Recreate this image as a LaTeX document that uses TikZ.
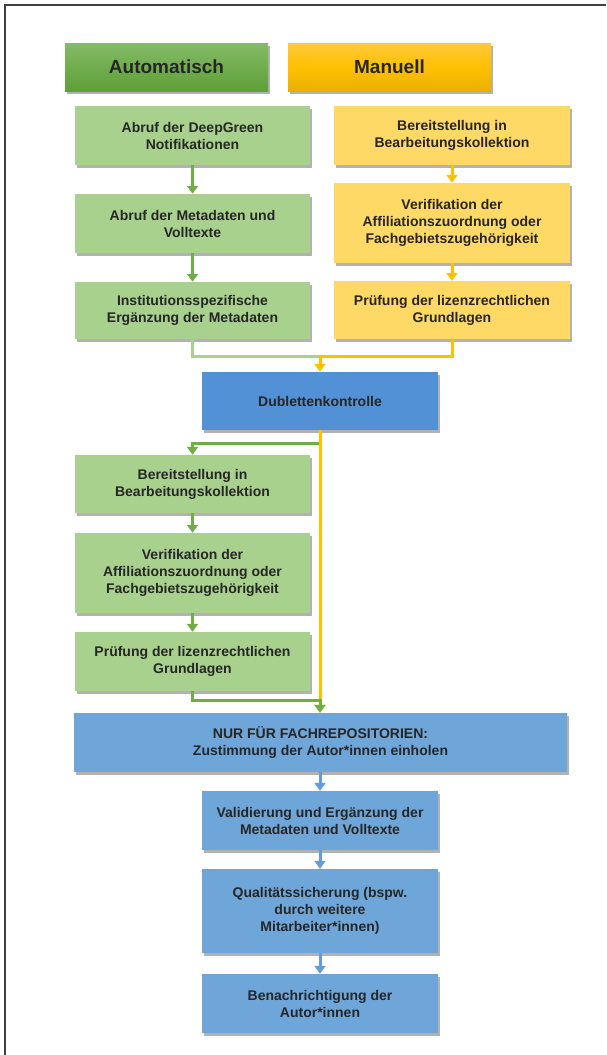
\documentclass[tikz,border=0pt]{standalone}
\usepackage{fontspec}
\setmainfont{Liberation Sans}
\usetikzlibrary{shadows,arrows.meta}

\definecolor{hdgreentop}{HTML}{84BB66}
\definecolor{hdgreenbot}{HTML}{5E9F37}
\definecolor{hdgoldtop}{HTML}{FFC93C}
\definecolor{hdgoldbot}{HTML}{E9B000}
\definecolor{lgreen}{HTML}{A9D18E}
\definecolor{mgreen}{HTML}{70AD47}
\definecolor{lgold}{HTML}{FFD966}
\definecolor{mgold}{HTML}{FFC000}
\definecolor{dblue}{HTML}{5291D5}
\definecolor{lblue}{HTML}{6FA6DA}
\definecolor{txtgray}{HTML}{262626}

\tikzset{
  box/.style={align=center,inner sep=0pt,text=txtgray,
    font=\bfseries\fontsize{14}{17}\selectfont,
    drop shadow={shadow xshift=2pt,shadow yshift=-2.5pt,opacity=0.3,fill=black}},
  headbox/.style={box,minimum width=203pt,minimum height=48pt,
    font=\bfseries\fontsize{19}{23}\selectfont},
  greenbox/.style={box,fill=lgreen,minimum width=235pt},
  goldbox/.style={box,fill=lgold,minimum width=236pt},
  bluebox/.style={box,fill=lblue,minimum width=236pt},
  garrow/.style={draw=mgreen,line width=3pt,-{Triangle[length=8pt,width=11pt]}},
  yarrow/.style={draw=mgold,line width=3pt,-{Triangle[length=8pt,width=11pt]}},
  barrow/.style={draw=dblue!90,line width=3pt,-{Triangle[length=8pt,width=11pt]}},
  gline/.style={draw=lgreen,line width=3pt}
}

\begin{document}
\begin{tikzpicture}[x=1pt,y=-1pt]
\useasboundingbox (0,0) rectangle (606,1055);
\draw[line width=1.6pt,draw=black!75] (5,1055) -- (5,5) -- (606,5);

\node[headbox,top color=hdgreentop,bottom color=hdgreenbot] (auto) at (166.5,67) {Automatisch};
\node[headbox,top color=hdgoldtop,bottom color=hdgoldbot,middle color=mgold] (manu) at (389.5,67) {Manuell};

\node[greenbox,minimum height=59pt] (g1) at (192.5,135.5) {Abruf der DeepGreen\\Notifikationen};
\node[greenbox,minimum height=59pt] (g2) at (192.5,223.5) {Abruf der Metadaten und\\Volltexte};
\node[greenbox,minimum height=57pt] (g3) at (192.5,310.5) {Institutionsspezifische\\Erg\"anzung der Metadaten};

\node[goldbox,minimum height=59pt] (y1) at (452,135.5) {Bereitstellung in\\Bearbeitungskollektion};
\node[goldbox,minimum height=80pt] (y2) at (452,223) {Verifikation der\\Affiliationszuordnung oder\\Fachgebietszugeh\"origkeit};
\node[goldbox,minimum height=58pt] (y3) at (452,310) {Pr\"ufung der lizenzrechtlichen\\Grundlagen};

\node[box,fill=dblue,minimum width=236pt,minimum height=58pt] (dub) at (320,401) {Dublettenkontrolle};

\node[greenbox,minimum height=58pt] (ga) at (192.5,484) {Bereitstellung in\\Bearbeitungskollektion};
\node[greenbox,minimum height=80pt] (gb) at (192.5,573) {Verifikation der\\Affiliationszuordnung oder\\Fachgebietszugeh\"origkeit};
\node[greenbox,minimum height=59pt] (gc) at (192.5,661.5) {Pr\"ufung der lizenzrechtlichen\\Grundlagen};

\node[box,fill=lblue,minimum width=493pt,minimum height=59pt] (nur) at (320.5,742.5) {NUR F\"UR FACHREPOSITORIEN:\\Zustimmung der Autor*innen einholen};
\node[bluebox,minimum height=59pt] (val) at (320,820.5) {Validierung und Erg\"anzung der\\Metadaten und Volltexte};
\node[bluebox,minimum height=84pt] (qual) at (320,911) {Qualit\"atssicherung (bspw.\\durch weitere\\Mitarbeiter*innen)};
\node[bluebox,minimum height=59pt] (ben) at (320,1003.5) {Benachrichtigung der\\Autor*innen};

\coordinate (mergeA) at (320,356);
\coordinate (splitB) at (320,443);
\coordinate (mergeC) at (320,700);

\draw[garrow] (g1) -- (g2);
\draw[garrow] (g2) -- (g3);
\draw[yarrow] (y1) -- (y2);
\draw[yarrow] (y2) -- (y3);

\draw[gline] (g3.south) |- (mergeA);
\draw[yarrow] (y3.south) |- (mergeA) -- (dub.north);

\draw[garrow] (dub.south) -- (splitB) -| (ga.north);
\draw[yarrow] (dub.south) -- (mergeC) -- (mergeC |- nur.north);
\draw[garrow] (ga) -- (gb);
\draw[garrow] (gb) -- (gc);
\draw[garrow] (gc.south) |- (mergeC) -- (mergeC |- nur.north);

\draw[barrow] (nur.south -| val.north) -- (val.north);
\draw[barrow] (val) -- (qual);
\draw[barrow] (qual) -- (ben);
\end{tikzpicture}
\end{document}
